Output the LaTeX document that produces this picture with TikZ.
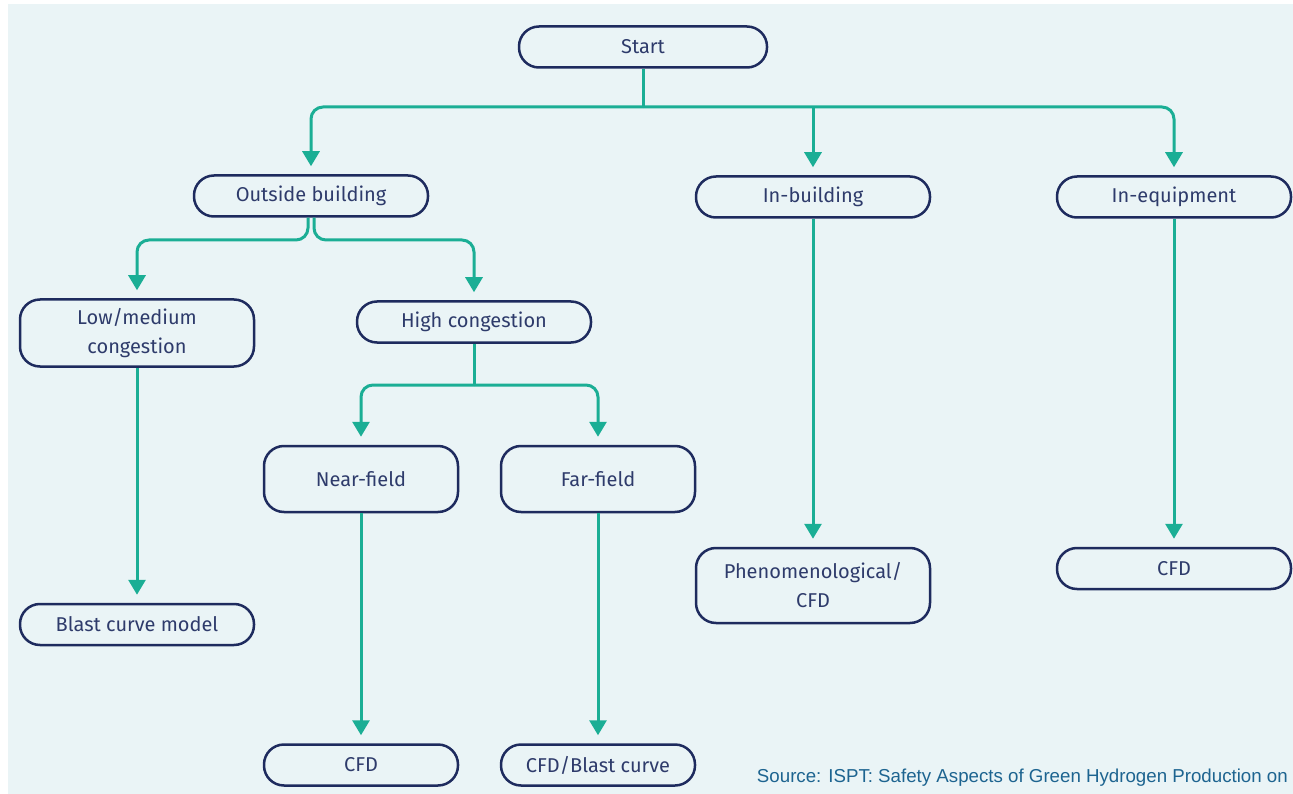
\documentclass[tikz,border=0pt]{standalone}
\usepackage{fontspec}
\setmainfont{Fira Sans}
\newfontfamily\sourcefont{Liberation Sans}
\usepackage{xcolor}
\usetikzlibrary{arrows.meta,positioning}
\definecolor{bgblue}{HTML}{EAF4F6}
\definecolor{boxnavy}{HTML}{1E2B5E}
\definecolor{textnavy}{HTML}{2E3B6B}
\definecolor{linkteal}{HTML}{1BAE95}
\definecolor{srcblue}{HTML}{1D6490}

\begin{document}
\begin{tikzpicture}[
  x=1pt,y=-1pt,
  box/.style={rectangle,draw=boxnavy,line width=2.5pt,rounded corners=20pt,align=center,text=textnavy,font=\fontsize{20}{29}\selectfont,minimum height=41pt},
  wide/.style={box,minimum width=234pt},
  narrow/.style={box,minimum width=194pt},
  link/.style={line width=3pt,draw=linkteal,rounded corners=12pt},
  arr/.style={link,-{Triangle[width=17pt,length=15pt]},shorten >=8pt}
]
\useasboundingbox (0,0) rectangle (1293,794);
\fill[bgblue] (8,4) rectangle (1293,794);

\node[box,minimum width=248pt] (start) at (643,47) {Start};
\node[wide] (outside) at (311,196) {Outside building};
\node[wide] (inbuild) at (813,197) {In-building};
\node[wide] (inequip) at (1174,197) {In-equipment};
\node[wide,minimum height=67pt] (lowmed) at (137,333) {Low/medium\\congestion};
\node[wide] (highcong) at (474,322) {High congestion};
\node[narrow,minimum height=66pt] (near) at (361,479) {Near-field};
\node[narrow,minimum height=66pt] (far) at (598,479) {Far-field};
\node[wide,below=235pt of lowmed] (blast) {Blast curve model};
\node[narrow,below=230pt of near] (cfdnear) {CFD};
\node[narrow,below=230pt of far] (cfdfar) {CFD/Blast curve};
\node[wide,minimum height=75pt,below=328pt of inbuild] (phenom) {Phenomenological/\\CFD};
\node[wide,below=328pt of inequip] (cfdeq) {CFD};
\node[anchor=base east,font=\sourcefont\fontsize{18.7}{21}\selectfont,text=srcblue,inner sep=0pt] (source) at (1288,782) {Source: ISPT: Safety Aspects of Green Hydrogen Production on};

\coordinate (split) at (643,107);
\coordinate (obsplit) at (311,240);
\coordinate (hcsplit) at (474,385);

\draw[link] (start) -- (split);
\draw[arr] (split) -| (outside);
\draw[arr] (split -| inbuild) -- (inbuild);
\draw[arr] (split) -| (inequip);
\draw[arr] ([xshift=-3pt]outside.south) -- ([xshift=-3pt]obsplit) -| (lowmed);
\draw[arr] ([xshift=3pt]outside.south) -- ([xshift=3pt]obsplit) -| (highcong);
\draw[link] (highcong) -- (hcsplit);
\draw[arr] (hcsplit) -| (near);
\draw[arr] (hcsplit) -| (far);
\draw[arr] (lowmed) -- (blast);
\draw[arr] (near) -- (cfdnear);
\draw[arr] (far) -- (cfdfar);
\draw[arr] (inbuild) -- (phenom);
\draw[arr] (inequip) -- (cfdeq);
\end{tikzpicture}
\end{document}
